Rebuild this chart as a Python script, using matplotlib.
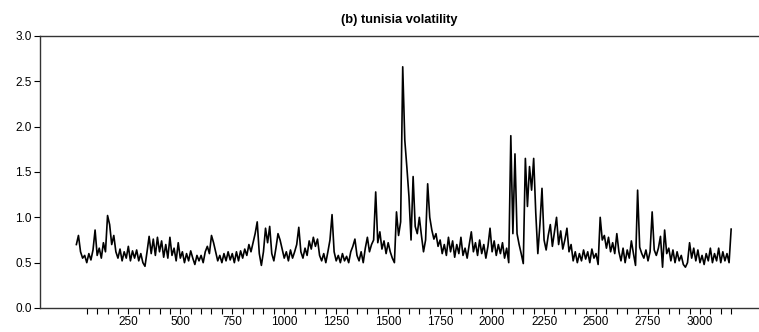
import numpy as np
import matplotlib
matplotlib.use("Agg")
import matplotlib.pyplot as plt
from matplotlib.ticker import FixedLocator

plt.rcParams['font.family'] = ['Liberation Sans Narrow', 'Liberation Sans', 'DejaVu Sans']

obs = np.arange(0, 3151, 10)
vol = [
    0.70, 0.80, 0.62, 0.55, 0.58, 0.50, 0.60, 0.53, 0.64, 0.86, 0.58, 0.66, 0.55, 0.72, 0.62, 1.02, 0.92, 0.70, 0.80, 0.62,
    0.55, 0.65, 0.52, 0.62, 0.55, 0.68, 0.52, 0.63, 0.55, 0.64, 0.52, 0.60, 0.50, 0.46, 0.62, 0.79, 0.60, 0.76, 0.58, 0.78,
    0.62, 0.74, 0.56, 0.70, 0.55, 0.78, 0.58, 0.66, 0.52, 0.72, 0.55, 0.62, 0.50, 0.60, 0.52, 0.63, 0.55, 0.48, 0.58, 0.52,
    0.58, 0.50, 0.62, 0.68, 0.60, 0.80, 0.72, 0.62, 0.52, 0.58, 0.50, 0.60, 0.52, 0.62, 0.53, 0.60, 0.50, 0.62, 0.52, 0.63,
    0.55, 0.65, 0.58, 0.70, 0.62, 0.72, 0.82, 0.95, 0.60, 0.47, 0.62, 0.88, 0.72, 0.90, 0.60, 0.52, 0.66, 0.82, 0.75, 0.65,
    0.55, 0.62, 0.52, 0.64, 0.55, 0.62, 0.70, 0.89, 0.62, 0.55, 0.66, 0.58, 0.74, 0.65, 0.78, 0.68, 0.76, 0.58, 0.52, 0.60,
    0.50, 0.62, 0.75, 1.03, 0.62, 0.52, 0.58, 0.50, 0.60, 0.52, 0.57, 0.50, 0.62, 0.68, 0.76, 0.58, 0.52, 0.62, 0.50, 0.66,
    0.78, 0.62, 0.70, 0.75, 1.28, 0.72, 0.84, 0.65, 0.74, 0.60, 0.72, 0.62, 0.55, 0.50, 1.06, 0.80, 0.95, 2.66, 1.85, 1.55,
    1.23, 0.75, 1.45, 0.90, 0.82, 1.00, 0.80, 0.62, 0.75, 1.37, 1.00, 0.86, 0.76, 0.82, 0.68, 0.75, 0.60, 0.70, 0.58, 0.78,
    0.62, 0.74, 0.56, 0.70, 0.60, 0.78, 0.58, 0.66, 0.55, 0.70, 0.84, 0.62, 0.72, 0.58, 0.75, 0.60, 0.70, 0.55, 0.68, 0.88,
    0.62, 0.74, 0.58, 0.70, 0.60, 0.72, 0.55, 0.66, 0.50, 1.90, 0.82, 1.70, 0.82, 0.70, 0.60, 0.49, 1.65, 1.12, 1.56, 1.30,
    1.65, 1.05, 0.60, 0.92, 1.32, 0.75, 0.64, 0.80, 0.92, 0.68, 0.84, 1.00, 0.70, 0.85, 0.65, 0.75, 0.88, 0.62, 0.70, 0.52,
    0.62, 0.50, 0.60, 0.52, 0.64, 0.54, 0.62, 0.50, 0.65, 0.55, 0.60, 0.48, 1.00, 0.75, 0.80, 0.66, 0.78, 0.62, 0.72, 0.60,
    0.82, 0.62, 0.52, 0.66, 0.50, 0.64, 0.55, 0.74, 0.60, 0.47, 1.30, 0.67, 0.60, 0.55, 0.64, 0.52, 0.62, 1.06, 0.64, 0.58,
    0.66, 0.79, 0.45, 0.86, 0.60, 0.66, 0.52, 0.64, 0.50, 0.62, 0.52, 0.58, 0.48, 0.45, 0.50, 0.72, 0.55, 0.66, 0.52, 0.64,
    0.50, 0.58, 0.48, 0.60, 0.52, 0.66, 0.50, 0.60, 0.52, 0.66, 0.50, 0.62, 0.52, 0.60, 0.50, 0.87,
]

major_x = [250, 500, 750, 1000, 1250, 1500, 1750, 2000, 2250, 2500, 2750, 3000]
minor_x = [v for v in range(50, 3151, 50) if v % 250 != 0]
y_ticks = [0.0, 0.5, 1.0, 1.5, 2.0, 2.5, 3.0]

fig = plt.figure(figsize=(7.59, 3.32), dpi=100)
ax = fig.add_axes([40 / 759, 24 / 332, 719 / 759, 272 / 332])
ax.plot(obs, vol, color='black', lw=1.2)

ax.set_xlim(-175, 3284)
ax.set_ylim(0, 3.0)
ax.spines['right'].set_visible(False)
for s in ['left', 'top', 'bottom']:
    ax.spines[s].set_linewidth(1.0)
    ax.spines[s].set_color('#333333')

ax.xaxis.set_major_locator(FixedLocator(major_x))
ax.xaxis.set_minor_locator(FixedLocator(minor_x))
ax.set_yticks(y_ticks)
ax.set_yticklabels(['%.1f' % v for v in y_ticks])
ax.tick_params(axis='both', which='major', direction='out', length=4, width=0.8, labelsize=8.5, pad=2)
ax.tick_params(axis='x', which='minor', direction='out', length=4, width=0.8)

ax.set_title('(b) tunisia volatility', fontsize=9.3, fontweight='bold',
             family=['Liberation Sans', 'DejaVu Sans'], pad=9)

fig.savefig('out.png', dpi=100)
